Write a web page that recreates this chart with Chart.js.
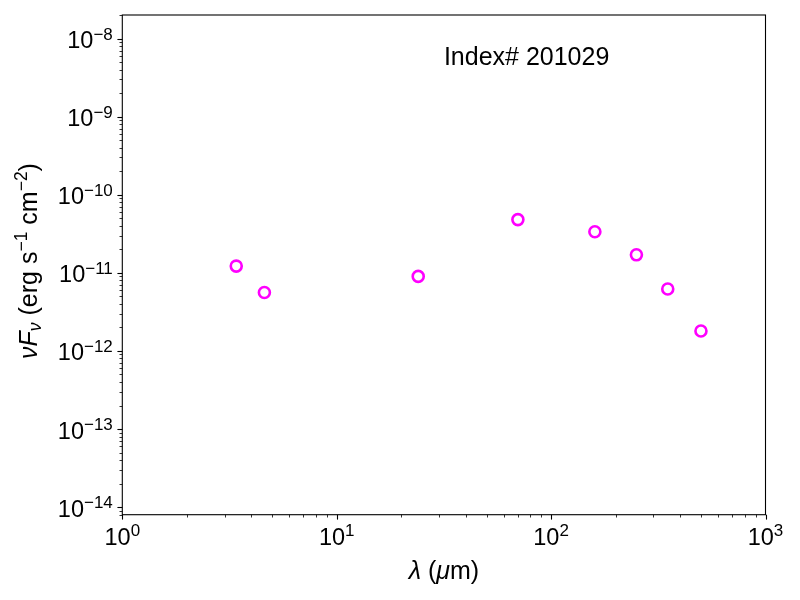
<!DOCTYPE html>
<html><head><meta charset="utf-8">
<script src="https://cdn.jsdelivr.net/npm/chart.js@4/dist/chart.umd.min.js"></script>
<style>html,body{margin:0;padding:0;background:#fff;} #wrap{width:800px;height:600px;position:relative;}</style>
</head><body><div id="wrap"><canvas id="c"></canvas></div>
<script>
// ---- data ----
const wavelengthsMicron = [3.4, 4.6, 24, 70, 160, 250, 350, 500];
const nuFnuValues = [1.22e-11, 5.6e-12, 9.0e-12, 4.8e-11, 3.35e-11, 1.7e-11, 6.2e-12, 1.8e-12];
const xTickExponents = [0, 1, 2, 3];
const yTickExponents = [-14, -13, -12, -11, -10, -9, -8];
const xLimits = [1, 1000];
const yLimits = [8e-15, 2e-8];
const annotationText = 'Index# 201029';

const FONT = '"Liberation Sans", Arial, Helvetica, sans-serif';
function fontStr(size, italic){ return (italic ? 'italic ' : '') + size + 'px ' + FONT; }
function richWidth(ctx, parts){ let w = 0; for (const p of parts){ ctx.font = fontStr(p.size, p.italic); w += ctx.measureText(p.t).width; } return w; }
function drawRich(ctx, parts, x, y){ let cx = x; for (const p of parts){ ctx.font = fontStr(p.size, p.italic); ctx.fillText(p.t, cx, y + (p.dy || 0)); cx += ctx.measureText(p.t).width; } }
function expStr(e){ return (e < 0 ? '\u2212' : '') + Math.abs(e); }
function tickParts(e){ return [{t:'10', size:23.5}, {t:expStr(e), size:17, dy:-8.5}]; }

const xTitleParts = [{t:'\u03BB', size:25, italic:true}, {t:' (', size:25}, {t:'\u03BC', size:25, italic:true}, {t:'m)', size:25}];
const yTitleParts = [
  {t:'\u03BD', size:25, italic:true}, {t:'F', size:25, italic:true}, {t:'\u03BD', size:17.5, italic:true, dy:4},
  {t:' (erg s', size:25}, {t:'\u22121', size:17.5, dy:-10}, {t:' cm', size:25}, {t:'\u22122', size:17.5, dy:-10}, {t:')', size:25}
];

const axesPlugin = {
  id: 'mplAxes',
  afterDraw(chart){
    const ctx = chart.ctx, a = chart.chartArea, xs = chart.scales.x, ys = chart.scales.y;
    ctx.save();
    ctx.strokeStyle = '#000'; ctx.fillStyle = '#000';
    ctx.lineWidth = 1.1;
    ctx.strokeRect(a.left, a.top, a.right - a.left, a.bottom - a.top);
    for (let e = -1; e <= 3; e++) for (let m = 1; m <= 9; m++) {
      const v = m * Math.pow(10, e);
      if (v < xLimits[0] * 0.9999 || v > xLimits[1] * 1.0001) continue;
      const px = Math.round(xs.getPixelForValue(v)) + 0.5;
      ctx.lineWidth = m === 1 ? 1.1 : 0.8;
      ctx.beginPath(); ctx.moveTo(px, a.bottom); ctx.lineTo(px, a.bottom + (m === 1 ? 4.9 : 2.8)); ctx.stroke();
    }
    for (let e = -15; e <= -7; e++) for (let m = 1; m <= 9; m++) {
      const v = m * Math.pow(10, e);
      if (v < yLimits[0] * 0.9999 || v > yLimits[1] * 1.0001) continue;
      const py = Math.round(ys.getPixelForValue(v)) + 0.5;
      ctx.lineWidth = m === 1 ? 1.1 : 0.8;
      ctx.beginPath(); ctx.moveTo(a.left, py); ctx.lineTo(a.left - (m === 1 ? 4.9 : 2.8), py); ctx.stroke();
    }
    ctx.textBaseline = 'alphabetic'; ctx.textAlign = 'left';
    for (const e of xTickExponents) {
      const parts = tickParts(e);
      const w = richWidth(ctx, parts);
      const px = xs.getPixelForValue(Math.pow(10, e));
      drawRich(ctx, parts, px - w / 2, a.bottom + 29.8);
    }
    for (const e of yTickExponents) {
      const parts = tickParts(e);
      const w = richWidth(ctx, parts);
      const py = ys.getPixelForValue(Math.pow(10, e));
      drawRich(ctx, parts, a.left - 9.5 - w, py + 9.5);
    }
    const xw = richWidth(ctx, xTitleParts);
    drawRich(ctx, xTitleParts, (a.left + a.right) / 2 - xw / 2, 579);
    const yw = richWidth(ctx, yTitleParts);
    ctx.save();
    ctx.translate(37, 261);
    ctx.rotate(-Math.PI / 2);
    drawRich(ctx, yTitleParts, -yw / 2, 0);
    ctx.restore();
    ctx.font = fontStr(25, false);
    ctx.fillText(annotationText, a.left + 0.5 * (a.right - a.left), a.bottom - 0.9 * (a.bottom - a.top));
    ctx.restore();
  }
};

new Chart(document.getElementById('c'), {
  type: 'scatter',
  data: {
    datasets: [{
      data: wavelengthsMicron.map((w, i) => ({x: w, y: nuFnuValues[i]})),
      pointStyle: 'circle',
      pointRadius: 5.5,
      pointHoverRadius: 5.5,
      pointBorderWidth: 2.6,
      borderColor: '#ff00ff',
      backgroundColor: '#ffffff',
      showLine: false
    }]
  },
  options: {
    responsive: true,
    maintainAspectRatio: false,
    animation: false,
    devicePixelRatio: 1,
    layout: { padding: { left: 122.3, right: 34.5, top: 15, bottom: 85.3 } },
    plugins: { legend: { display: false }, tooltip: { enabled: false } },
    scales: {
      x: { type: 'logarithmic', min: xLimits[0], max: xLimits[1], display: false },
      y: { type: 'logarithmic', min: yLimits[0], max: yLimits[1], display: false }
    }
  },
  plugins: [axesPlugin]
});
</script>
</body></html>
